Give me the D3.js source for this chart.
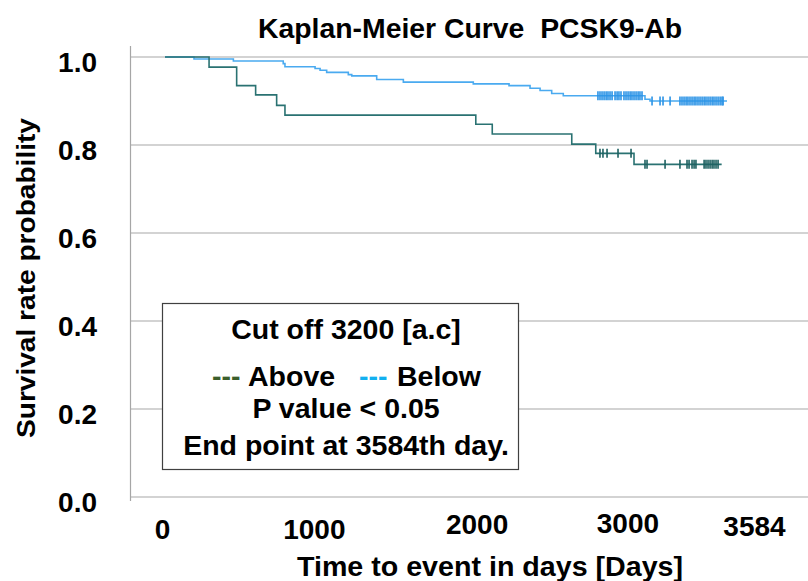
<!DOCTYPE html>
<html>
<head>
<meta charset="utf-8">
<script src="https://cdn.jsdelivr.net/npm/d3@7"></script>
<style>
  body { margin: 0; background: #fff; }
  text { font-family: "Liberation Sans", Arial, sans-serif; font-weight: bold; fill: #000; white-space: pre; }
</style>
</head>
<body>
<div id="chart"></div>
<script>
// Above cut-off group (days of events, survival after each event)
const aboveDays = [281, 457, 578, 712, 765, 1982, 2087, 2594, 2747, 2991];
const aboveSurv = [0.977, 0.935, 0.914, 0.890, 0.868, 0.847, 0.825, 0.802, 0.781, 0.756];
const aboveCensored = [2774, 2793, 2819, 2889, 2972, 3061, 3074, 3189, 3284, 3329, 3342, 3361,
    3374, 3386, 3438, 3450, 3463, 3476, 3489, 3501, 3514, 3527];
const aboveEnd = 3550;

// Below cut-off group
const belowDays = [185, 436, 754, 765, 957, 989, 1031, 1169, 1191, 1350, 1520, 1966, 2194,
    2328, 2392, 2466, 2540, 3061, 3093];
const belowSurv = [0.9955, 0.991, 0.985, 0.978, 0.974, 0.970, 0.965, 0.960, 0.957, 0.949, 0.943,
    0.939, 0.935, 0.929, 0.924, 0.917, 0.912, 0.904, 0.900];
const belowCensored = [2761, 2774, 2787, 2800, 2813, 2825, 2838, 2851, 2870, 2883, 2895, 2908,
    2927, 2940, 2953, 2966, 2978, 2991, 3004, 3017, 3029, 3042, 3106, 3157, 3176, 3221, 3284,
    3297, 3310, 3323, 3335, 3348, 3361, 3374, 3386, 3399, 3412, 3425, 3438, 3450, 3463, 3476,
    3489, 3501, 3514, 3527, 3540, 3552, 3559];
const belowEnd = 3584;

const xTicks = [0, 1000, 2000, 3000, 3584];
const yTicks = [0, 0.2, 0.4, 0.6, 0.8, 1.0];

const width = 808, height = 581;
const svg = d3.select("#chart").append("svg")
    .attr("width", width)
    .attr("height", height);

const x = d3.scaleLinear().domain([0, 3584]).range([165, 727]);
const y = d3.scaleLinear().domain([0, 1]).range([497, 57]);

// gridlines
svg.append("g")
    .selectAll("line")
    .data(yTicks)
    .enter().append("line")
    .attr("x1", 130).attr("x2", width)
    .attr("y1", d => y(d)).attr("y2", d => y(d))
    .style("stroke", "#d3d3d3")
    .style("stroke-width", 2);

// y axis line
svg.append("line")
    .attr("x1", 130.5).attr("x2", 130.5)
    .attr("y1", 46).attr("y2", 501)
    .style("stroke", "#a6a6a6")
    .style("stroke-width", 1.2);

// y tick labels
const yAxis = d3.axisLeft(y).tickValues(yTicks).tickFormat(d3.format(".1f")).tickSize(0).tickPadding(0);
const yG = svg.append("g").attr("transform", "translate(97,4)").call(yAxis);
yG.select(".domain").remove();
yG.selectAll("text")
    .style("font-size", "28px")
    .attr("dy", "0.36em")
    .style("font-family", "'Liberation Sans', Arial, sans-serif")
    .style("font-weight", "bold");

// x tick labels (picture has them nudged off their exact spots)
const xNudge = { 0: [-3, 0], 1000: [-8, 0], 2000: [-2, -5], 3000: [-8, -6], 3584: [27, -3] };
const xAxis = d3.axisBottom(x).tickValues(xTicks).tickFormat(d3.format("d")).tickSize(0).tickPadding(0);
const xG = svg.append("g").attr("transform", "translate(0,519)").call(xAxis);
xG.select(".domain").remove();
xG.selectAll("text")
    .style("font-size", "28px")
    .style("font-family", "'Liberation Sans', Arial, sans-serif")
    .style("font-weight", "bold")
    .attr("dy", "0.71em")
    .attr("transform", d => "translate(" + xNudge[d][0] + "," + xNudge[d][1] + ")");

// step curves
function stepPoints(days, surv, end) {
    const pts = [[0, 1]];
    days.forEach((d, i) => pts.push([d, surv[i]]));
    pts.push([end, surv[surv.length - 1]]);
    return pts;
}
function survAt(days, surv, t) {
    let s = 1;
    days.forEach((d, i) => { if (d <= t) s = surv[i]; });
    return s;
}

const stepLine = d3.line()
    .x(d => x(d[0]))
    .y(d => y(d[1]))
    .curve(d3.curveStepAfter);

const groups = [
    { days: belowDays, surv: belowSurv, cens: belowCensored, end: belowEnd, line: "#4aaaf0", mark: "#2b93e6" },
    { days: aboveDays, surv: aboveSurv, cens: aboveCensored, end: aboveEnd, line: "#2a7272", mark: "#1d6060" }
];

groups.forEach(g => {
    svg.append("path")
        .datum(stepPoints(g.days, g.surv, g.end))
        .attr("d", stepLine)
        .style("fill", "none")
        .style("stroke", g.line)
        .style("stroke-width", 1.6);

    svg.append("g")
        .selectAll("line")
        .data(g.cens)
        .enter().append("line")
        .attr("x1", d => x(d)).attr("x2", d => x(d))
        .attr("y1", d => y(survAt(g.days, g.surv, d)) - 4.5)
        .attr("y2", d => y(survAt(g.days, g.surv, d)) + 4.5)
        .style("stroke", g.mark)
        .style("stroke-width", 1.6);
});

// title and axis titles
svg.append("text")
    .attr("x", 470).attr("y", 38)
    .attr("text-anchor", "middle")
    .attr("textLength", 424)
    .attr("lengthAdjust", "spacingAndGlyphs")
    .style("font-size", "27px")
    .text("Kaplan-Meier Curve  PCSK9-Ab");

svg.append("text")
    .attr("transform", "translate(35,278) rotate(-90)")
    .attr("text-anchor", "middle")
    .attr("textLength", 320)
    .attr("lengthAdjust", "spacingAndGlyphs")
    .style("font-size", "26px")
    .text("Survival rate probability");

svg.append("text")
    .attr("x", 490).attr("y", 576)
    .attr("text-anchor", "middle")
    .attr("textLength", 386)
    .attr("lengthAdjust", "spacingAndGlyphs")
    .style("font-size", "28px")
    .text("Time to event in days [Days]");

// legend box
const legend = svg.append("g");
legend.append("rect")
    .attr("x", 162.5).attr("y", 303.5)
    .attr("width", 356).attr("height", 166)
    .style("fill", "#fff")
    .style("stroke", "#404040")
    .style("stroke-width", 1.2);

const legendLines = [
    { text: "Cut off 3200 [a.c]", y: 339 },
    { text: "P value < 0.05", y: 418 },
    { text: "End point at 3584th day.", y: 455 }
];
legend.selectAll(".legend-line")
    .data(legendLines)
    .enter().append("text")
    .attr("class", "legend-line")
    .attr("x", 346).attr("y", d => d.y)
    .attr("text-anchor", "middle")
    .style("font-size", "28.5px")
    .text(d => d.text);

const keyItems = [
    { text: "---", x: 212, color: "#3b5e2b" },
    { text: "Above", x: 248, color: "#000" },
    { text: "---", x: 359, color: "#12b0f0" },
    { text: "Below", x: 397, color: "#000" }
];
legend.selectAll(".legend-key")
    .data(keyItems)
    .enter().append("text")
    .attr("class", "legend-key")
    .attr("x", d => d.x).attr("y", 386)
    .style("font-size", "28.5px")
    .style("fill", d => d.color)
    .text(d => d.text);
</script>
</body>
</html>
